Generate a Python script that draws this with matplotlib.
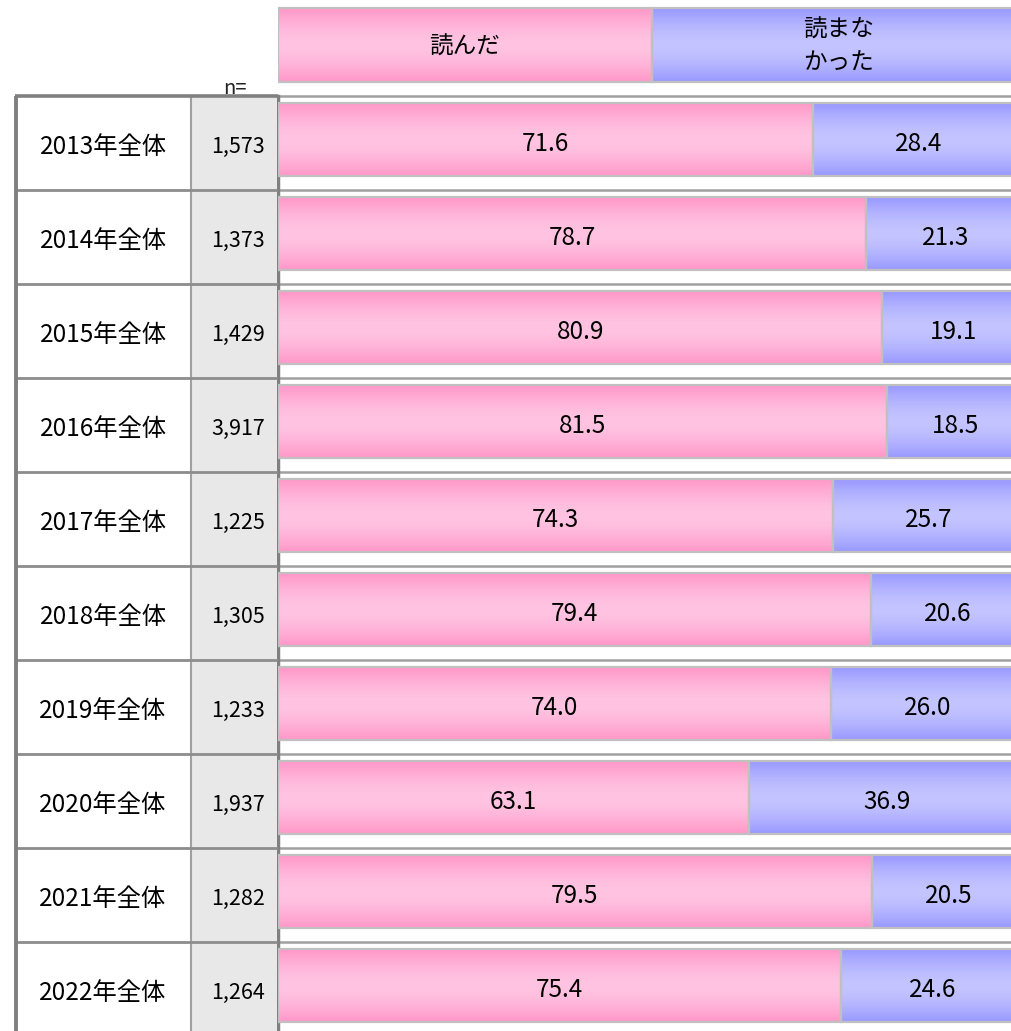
import numpy as np
import matplotlib
matplotlib.use('Agg')
import matplotlib.pyplot as plt
from matplotlib.colors import LinearSegmentedColormap
from matplotlib.patches import Rectangle

plt.rcParams['font.family'] = ['Noto Sans CJK JP', 'DejaVu Sans']

# ---- data ----
categories = ['2013年全体', '2014年全体', '2015年全体', '2016年全体', '2017年全体',
              '2018年全体', '2019年全体', '2020年全体', '2021年全体', '2022年全体']
n_values = ['1,573', '1,373', '1,429', '3,917', '1,225',
            '1,305', '1,233', '1,937', '1,282', '1,264']
read = [71.6, 78.7, 80.9, 81.5, 74.3, 79.4, 74.0, 63.1, 79.5, 75.4]
not_read = [28.4, 21.3, 19.1, 18.5, 25.7, 20.6, 26.0, 36.9, 20.5, 24.6]
header_labels = ['読んだ', '読まな\nかった']
header_values = [50, 50]
n_label = 'n='

# ---- layout ----
W, H = 1012, 1031
row_h = 94.0
top_px = 96.0
y_top = -top_px / row_h
y_bot = (H - top_px) / row_h
bar_off = 7 / row_h
bh = 73 / row_h

fig = plt.figure(figsize=(W / 100, H / 100), dpi=100)
fig.patch.set_facecolor('white')

pink_cmap = LinearSegmentedColormap.from_list('pink', ['#ff96c8', '#ffc4e2'])
blue_cmap = LinearSegmentedColormap.from_list('blue', ['#9898ff', '#c4c4ff'])
t = np.linspace(0, 1, 128)
prof = 1 - np.abs(2 * t - 1) ** 1.6
grad = prof.reshape(-1, 1)

ax = fig.add_axes([278 / W, 0, 747 / W, 1])
ax.axis('off')

idx = np.arange(len(categories))
ypos = idx + bar_off + bh / 2

pink_bars = ax.barh(ypos, read, height=bh, left=0, color='none',
                    edgecolor='#c0c0c0', lw=1.6, zorder=4)
blue_bars = ax.barh(ypos, not_read, height=bh, left=read, color='none',
                    edgecolor='#c0c0c0', lw=1.6, zorder=4)

# header bar
hy = (45 - top_px) / row_h
hh = 74 / row_h
hleft = np.cumsum([0] + header_values[:-1])
head_bars = ax.barh([hy] * len(header_values), header_values, height=hh, left=hleft,
                    color='none', edgecolor='#c0c0c0', lw=1.6, zorder=4)

def fill_grad(bars, cmap):
    for p in bars:
        x0, y0, w, h = p.get_x(), p.get_y(), p.get_width(), p.get_height()
        ax.imshow(grad, extent=(x0, x0 + w, y0 + h, y0), cmap=cmap, vmin=0, vmax=1,
                  aspect='auto', interpolation='bicubic', zorder=3)

fill_grad(pink_bars, pink_cmap)
fill_grad(blue_bars, blue_cmap)
fill_grad([head_bars[0]], pink_cmap)
fill_grad([head_bars[1]], blue_cmap)

# row separator lines and spine
ax.hlines(idx, 0, 100, color='#a0a0a0', lw=1.8, zorder=1)
ax.plot([0, 0], [0, y_bot], color='#808080', lw=2.5, zorder=2, clip_on=False)

# value labels
vy = idx + 0.51
for i in idx:
    ax.text(read[i] / 2, vy[i], f'{read[i]:.1f}', ha='center', va='center',
            fontsize=17.5, zorder=5)
    ax.text(read[i] + not_read[i] / 2, vy[i], f'{not_read[i]:.1f}', ha='center',
            va='center', fontsize=17.5, zorder=5)

# header labels
ax.text(hleft[0] + header_values[0] / 2, hy + 0.02, header_labels[0], ha='center',
        va='center', fontsize=17, zorder=5)
ax.text(hleft[1] + header_values[1] / 2, hy + 0.02, header_labels[1], ha='center',
        va='center', fontsize=17, linespacing=1.55, zorder=5)

ax.set_xlim(0, 100)
ax.set_ylim(y_bot, y_top)

# ---- left table ----
tax = fig.add_axes([0, 0, 278 / W, 1])
tax.axis('off')
tax.set_xlim(0, 278)
tax.set_ylim(y_bot, y_top)

tax.add_patch(Rectangle((191, 0), 86, y_bot, facecolor='#e8e8e8', edgecolor='none', zorder=0))
tax.hlines(idx[1:], 15, 278, color='#8c8c8c', lw=2.0, zorder=2)
tax.hlines([0], 15, 278, color='#808080', lw=2.6, zorder=3)
tax.vlines([191], 0, y_bot, color='#a0a0a0', lw=1.5, zorder=1)
tax.vlines([16], 0, y_bot, color='#808080', lw=2.8, zorder=3)

ty = idx + 0.545
for i in idx:
    tax.text(103, ty[i], categories[i], ha='center', va='center', fontsize=17.5)
    tax.text(265, ty[i], n_values[i], ha='right', va='center', fontsize=15.5)

tax.text(235, (89 - top_px) / row_h, n_label, ha='center', va='center', fontsize=14.5,
         color='#222222')

fig.savefig('out.png', dpi=100)
